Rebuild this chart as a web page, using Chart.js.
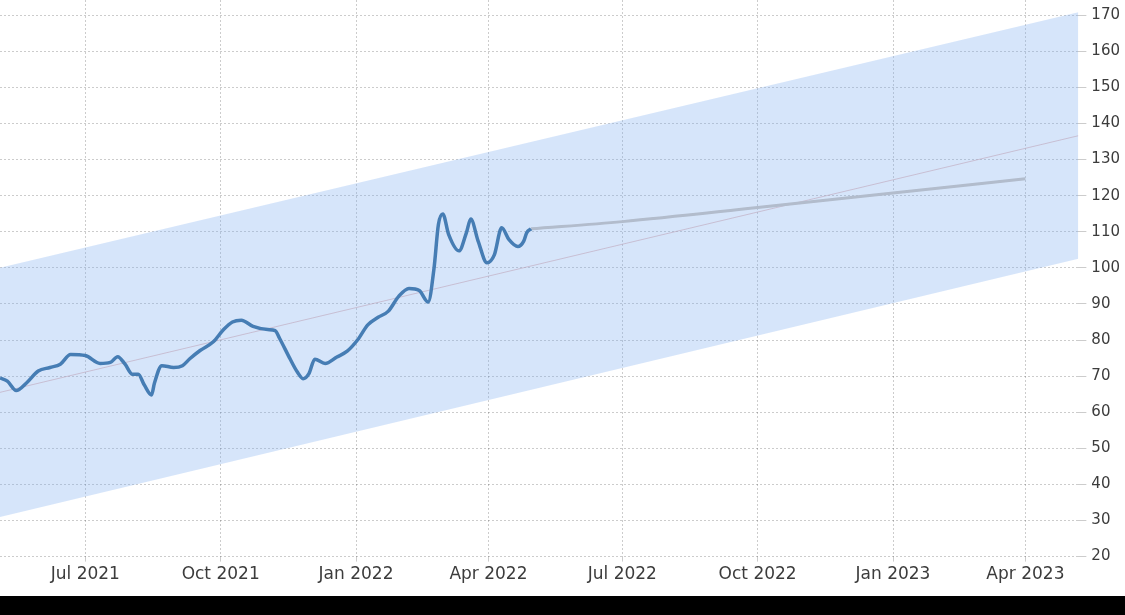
<!DOCTYPE html>
<html>
<head>
<meta charset="utf-8">
<script src="https://cdn.jsdelivr.net/npm/chart.js@4.4.1/dist/chart.umd.min.js"></script>
<style>
    body { margin: 0; background: #000; }
    #wrap { width: 1125px; height: 596px; background: #fff; }
</style>
</head>
<body>
<div id="wrap"><canvas id="myChart" width="1125" height="596"></canvas></div>
<script>
// history
const histDates = [
    '2021-05-04', '2021-05-09', '2021-05-15', '2021-05-22', '2021-05-30', '2021-06-07', '2021-06-14', '2021-06-21',
    '2021-07-01', '2021-07-11', '2021-07-18', '2021-07-23', '2021-07-28', '2021-08-02', '2021-08-06', '2021-08-10',
    '2021-08-15', '2021-08-17', '2021-08-22', '2021-08-30', '2021-09-05', '2021-09-10', '2021-09-17', '2021-09-26',
    '2021-10-03', '2021-10-09', '2021-10-15', '2021-10-23', '2021-11-02', '2021-11-07', '2021-11-10', '2021-11-17',
    '2021-11-22', '2021-11-26', '2021-11-30', '2021-12-04', '2021-12-11', '2021-12-19', '2021-12-26', '2022-01-02',
    '2022-01-09', '2022-01-16', '2022-01-23', '2022-01-30', '2022-02-06', '2022-02-13', '2022-02-19', '2022-02-23',
    '2022-02-26', '2022-03-01', '2022-03-05', '2022-03-12', '2022-03-17', '2022-03-20', '2022-03-25', '2022-03-31',
    '2022-04-05', '2022-04-10', '2022-04-15', '2022-04-21', '2022-04-25', '2022-04-27', '2022-04-30'
];
const histValues = [
    69.5, 68.6, 66.0, 68.1, 71.4, 72.4, 73.3, 76.0,
    75.7, 73.5, 73.8, 75.4, 73.3, 70.5, 70.5, 67.6,
    64.8, 68.1, 72.9, 72.4, 72.9, 74.8, 77.1, 79.5,
    82.9, 85.0, 85.5, 83.8, 82.9, 82.6, 80.5, 74.9,
    71.2, 69.3, 70.7, 74.7, 73.5, 75.3, 76.9, 80.0,
    84.2, 86.3, 88.0, 92.1, 94.3, 93.7, 90.5, 99.8,
    112.0, 114.9, 109.2, 104.7, 109.7, 113.5, 107.4, 101.4,
    103.6, 111.1, 107.8, 105.9, 107.4, 109.7, 110.8
];

// forecast
const foreDates = ['2022-04-30', '2022-07-01', '2022-10-01', '2023-01-01', '2023-04-01'];
const foreValues = [110.8, 112.8, 116.7, 120.7, 124.7];

// trend channel
const bandDates = ['2021-05-04', '2023-05-07'];
const bandUpper = [100, 170.8];
const bandLower = [31, 102.5];
const bandTrend = [65.5, 136.6];

const tickDates = ['2021-07-01', '2021-10-01', '2022-01-01', '2022-04-01', '2022-07-01', '2022-10-01', '2023-01-01', '2023-04-01'];
const tickLabels = ['Jul 2021', 'Oct 2021', 'Jan 2022', 'Apr 2022', 'Jul 2022', 'Oct 2022', 'Jan 2023', 'Apr 2023'];

function toPoints(dates, values) {
    return dates.map((d, i) => ({x: Date.parse(d), y: values[i]}));
}

const data = {
    datasets: [{
            data: toPoints(histDates, histValues),
            borderColor: 'rgb(70, 125, 180)',
            borderWidth: 3.5,
            pointRadius: 0,
            cubicInterpolationMode: 'monotone',
            fill: false,
            order: 0
        }, {
            data: toPoints(foreDates, foreValues),
            borderColor: 'rgb(178, 188, 204)',
            borderWidth: 3,
            pointRadius: 0,
            cubicInterpolationMode: 'monotone',
            fill: false,
            order: 1
        }, {
            data: toPoints(bandDates, bandTrend),
            borderColor: 'rgba(190, 165, 185, 0.6)',
            borderWidth: 1,
            pointRadius: 0,
            fill: false,
            order: 2
        }, {
            data: toPoints(bandDates, bandUpper),
            borderColor: 'rgba(0, 0, 0, 0)',
            borderWidth: 0,
            pointRadius: 0,
            backgroundColor: 'rgba(120, 170, 240, 0.3)',
            fill: '+1',
            order: 3
        }, {
            data: toPoints(bandDates, bandLower),
            borderColor: 'rgba(0, 0, 0, 0)',
            borderWidth: 0,
            pointRadius: 0,
            fill: false,
            order: 4
        }]
};

const gridColor = 'rgba(0, 0, 0, 0.2)';

const config = {
    type: 'line',
    data: data,
    options: {
        responsive: false,
        animation: false,
        layout: {padding: {top: 0, right: 0, bottom: 8, left: 0}},
        plugins: {legend: {display: false}, tooltip: {enabled: false}},
        scales: {
            x: {
                type: 'linear',
                min: Date.parse(bandDates[0]),
                max: Date.parse(bandDates[1]),
                afterBuildTicks: function (axis) {
                    axis.ticks = tickDates.map(d => ({value: Date.parse(d)}));
                },
                ticks: {
                    font: {family: 'DejaVu Sans', size: 17},
                    color: '#3c3c3c',
                    padding: 3,
                    maxRotation: 0,
                    autoSkip: false,
                    callback: function (value) {
                        let i = tickDates.findIndex(d => Date.parse(d) === value);
                        return i >= 0 ? tickLabels[i] : '';
                    }
                },
                grid: {color: gridColor, tickLength: 5},
                border: {display: false, dash: [2, 2]}
            },
            y: {
                position: 'right',
                min: 20,
                max: 174.2,
                // the extra 4.2 only lets the vertical grid reach the top edge
                afterFit: function (axis) {
                    axis.paddingTop = 0;
                },
                ticks: {
                    stepSize: 10,
                    includeBounds: false,
                    font: {family: 'DejaVu Sans', size: 15},
                    color: '#3c3c3c',
                    padding: 5
                },
                grid: {color: gridColor, tickLength: 8},
                border: {display: false, dash: [2, 2]}
            }
        }
    }
};

let ctx = document.getElementById('myChart').getContext('2d');
new Chart(ctx, config);
</script>
</body>
</html>
